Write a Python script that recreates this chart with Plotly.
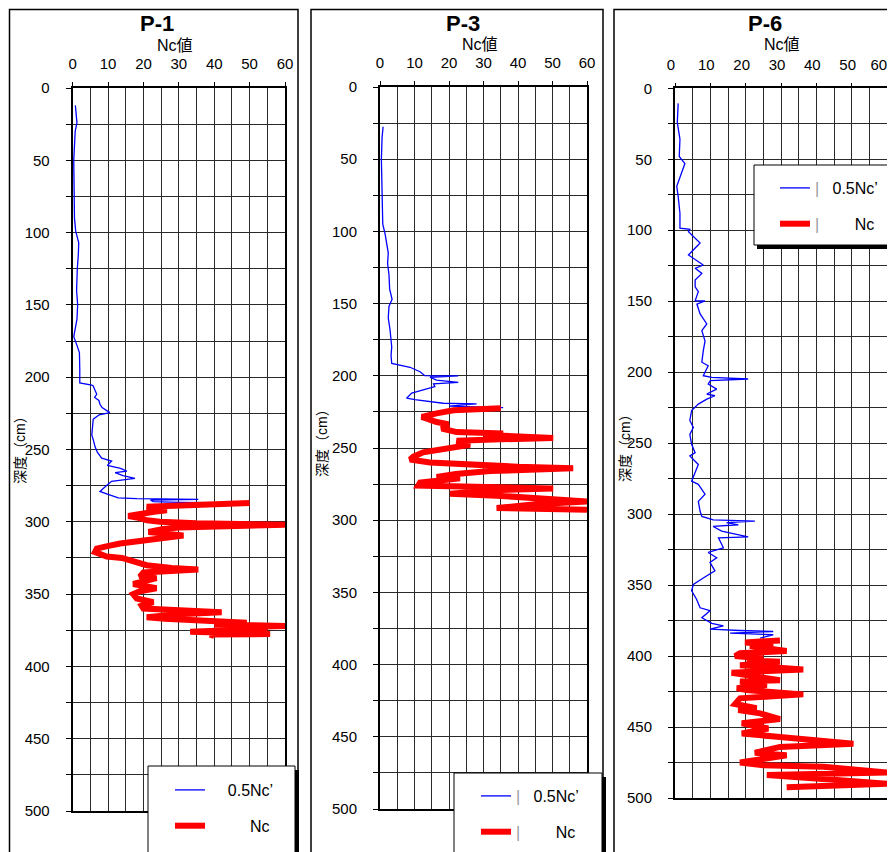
import plotly.graph_objects as go

# The page body adds an 8px margin, so the figure is drawn 8px smaller and
# reference pixel p maps to figure pixel p - 8.
OFF = 8
W, H = 895 - OFF, 852 - OFF

# ---------------- data ----------------
p1_blue_depth = [12, 18, 24, 30, 40, 50, 60, 75, 90, 99, 107, 115, 125, 140, 150, 160, 172, 178, 183, 195, 204,
                 205.5, 206, 209, 211.8, 214, 216, 218.7, 221, 224.5, 226, 229, 235, 240, 244, 248, 252, 256, 258,
                 261, 263, 265, 266, 268, 270, 272, 275, 279, 281, 283.5, 284, 284.5, 285, 286, 286.5, 287]
p1_blue_val = [0.75, 1.0, 1.2, 0.7, 0.4, 0.3, 0.35, 0.4, 0.5, 0.85, 1.7, 1.6, 1.3, 1.1, 1.4, 1.2, 0.3, 1.2, 1.9, 2.0,
               2.0, 5.4, 5.8, 6.3, 6.8, 6.2, 7.4, 7.7, 8.3, 10.5, 7.5, 5.8, 5.6, 5.4, 5.9, 6.3, 7.0, 8.2, 11.0,
               9.8, 13.5, 15.3, 12.0, 14.2, 17.6, 11.0, 9.5, 7.7, 10.0, 12.9, 18.1, 35.5, 22.0, 22.8, 30.0, 50.0]

p1_red_depth = [287, 288, 289.6, 291, 292, 293, 294, 296, 297, 299, 300, 301, 302, 302.5, 303, 304, 305, 307, 309.5,
                311, 313, 315, 317, 318.6, 321, 322.5, 324, 325, 328, 330, 332, 333, 335, 338, 339, 341, 343, 346,
                348, 350, 353, 355.6, 358, 360, 361, 362.5, 364, 366, 367, 368, 369.8, 371, 372, 373, 374, 376,
                377.6, 378, 379]
p1_red_val = [50, 35, 20.9, 24, 26.6, 23, 20, 15.7, 18.1, 21, 24.7, 35, 60, 45, 41.6, 30, 25.6, 21.4, 31.3, 26, 20,
              13.4, 9.5, 6.8, 6.3, 7.5, 9.6, 13.9, 18.1, 20.9, 28, 35.5, 20, 19, 23.7, 20, 17.1, 23.7, 19, 17.1,
              18.1, 22.8, 19.5, 20, 29.4, 42.1, 30, 20.9, 26, 33.2, 49.2, 40, 60, 45, 55, 33.2, 55.8, 38.8, 40]

p3_blue_depth = [27.5, 35, 50, 65, 80, 95, 102, 108, 115, 122, 130, 140, 147, 152, 160, 168, 175, 180, 186, 191.4,
                 194.1, 197.2, 199.9, 200, 201, 203, 204.5, 205.5, 207.5, 210, 212, 215.5, 216.5, 219, 219.4, 221, 222]
p3_blue_val = [0.9, 0.6, 0.4, 0.5, 0.7, 0.8, 1.5, 2.0, 2.4, 2.2, 2.6, 2.8, 3.5, 2.6, 2.4, 2.9, 3.2, 3.4, 3.2, 3.4,
               8.7, 11.6, 13.0, 22.7, 14.5, 16.4, 22.7, 15.5, 15.9, 12.1, 9.2, 7.7, 10.1, 18.3, 28.0, 20.0, 35.7]

p3_red_depth = [222.5, 223, 223.9, 226, 228.4, 230, 232, 233.5, 236.5, 239, 240, 241, 243, 244, 245, 247.7, 251, 253,
                256, 258, 260, 261.6, 263, 264, 265, 266, 268, 270, 271, 274, 276, 277, 278, 279, 281.7, 283, 285,
                287, 289, 291.6, 292.7]
p3_red_val = [35, 26.6, 21.3, 16.4, 12.1, 14, 16.4, 19.8, 17.9, 22.2, 35.7, 30, 50.2, 35, 22.2, 26.1, 16.4, 12.5,
              9.7, 8.7, 14.5, 25.1, 40, 56, 45, 31.9, 22, 16.4, 23.2, 11.6, 11.1, 30, 50.2, 35, 20.3, 33.8, 45, 60,
              45, 33.8, 60]

p6_blue_depth = [10.6, 24, 36, 48, 53, 69, 76.3, 88, 98.6, 99.3, 101, 109, 117.4, 119.8, 124.5, 126.8, 130.4, 135,
                 139.8, 143.3, 149.7, 149.8, 152, 159, 166, 170.8, 178, 185, 193, 195.5, 202.5, 203.6, 204.8, 206,
                 208.4, 211.9, 215.4, 216.6, 219, 222.5, 227, 234, 239, 243.8, 250.8, 256.7, 259, 265, 271, 276.8,
                 279, 286, 291, 298, 301.6, 304, 305, 306, 307.5, 308.7, 312, 316, 316.7, 323.7, 327, 330.7, 334,
                 340, 345, 349.5, 354, 360, 366, 368, 373, 377, 378.8, 381, 382, 382.7, 383.8, 385, 387.4]
p6_blue_val = [0.9, 0.65, 1.4, 1.2, 2.8, 0.5, 0.9, 1.4, 1.4, 4.2, 3.8, 7.1, 3.8, 5.2, 8.0, 5.7, 7.6, 5.7, 5.7, 6.6,
               5.7, 8.5, 6.2, 7.1, 9.0, 7.6, 8.5, 8.0, 7.6, 9.4, 8.0, 10.4, 20.7, 10.0, 9.4, 11.8, 9.0, 11.3, 9.0,
               6.6, 4.7, 4.2, 5.2, 4.2, 4.7, 5.7, 4.2, 6.6, 5.7, 4.7, 6.6, 8.5, 6.6, 7.1, 7.6, 10.8, 22.6, 14.6,
               17.9, 10.8, 13.2, 20.7, 12.3, 13.7, 9.4, 11.8, 9.9, 11.3, 8.0, 5.2, 4.7, 6.1, 7.1, 9.9, 7.6, 10.4,
               13.7, 9.9, 18.4, 27.8, 15.6, 27.8, 24.1]

p6_red_depth = [389, 390.4, 392, 393, 396.5, 398, 400, 401.8, 402.9, 404, 406.4, 409.4, 411.8, 413.4, 417, 418,
                420.4, 422.7, 424, 427, 429.8, 433.8, 436.8, 438, 440.4, 444.4, 447.4, 451, 454.6, 457, 458.8,
                461.7, 464, 468.2, 469.9, 475, 477, 478, 482, 483.8, 487.3, 490, 492.5]
p6_red_val = [29.7, 19.8, 27.8, 21.2, 31.6, 18.4, 17, 25, 20.3, 29.7, 18.4, 36.3, 16, 20.3, 29.7, 18.4, 26, 17.5,
              20.3, 36.3, 18.4, 17, 23.1, 17.9, 24.1, 29.7, 18.9, 26.4, 18.9, 29.7, 39.1, 50.5, 29.7, 22.6, 31.6,
              18.4, 25, 42, 60, 26, 45.8, 60, 31.6]

titles = ["P-1", "P-3", "P-6"]
x_label = "Nc値"
y_label = "深度（cm）"
blue_name = "0.5Nc’"
red_name = "Nc"
x_ticks = [0, 10, 20, 30, 40, 50, 60]
x_tick_text = ["0", "10", "20", "30", "40", "50", "60"]

FONT = "Liberation Sans, Arial, Noto Sans CJK JP, sans-serif"


def fx(p):
    return (p - OFF) / W


def fy(p):
    return 1 - (p - OFF) / H


fig = go.Figure()

series = [
    (p1_blue_depth, p1_blue_val, p1_red_depth, p1_red_val),
    (p3_blue_depth, p3_blue_val, p3_red_depth, p3_red_val),
    (p6_blue_depth, p6_blue_val, p6_red_depth, p6_red_val),
]
legend_ids = ["legend", "legend2", "legend3"]
for i, (bd, bv, rd, rv) in enumerate(series):
    xa = "x" if i == 0 else f"x{i+1}"
    ya = "y" if i == 0 else f"y{i+1}"
    bar = '<span style="color:#999999">|</span>' if i > 0 else '\u00a0'
    fig.add_trace(go.Scatter(x=bv, y=bd, mode="lines", name=bar + "\u00a0\u00a0\u00a0" + blue_name,
                             line=dict(color="#0000ff", width=1.3), xaxis=xa, yaxis=ya,
                             legend=legend_ids[i], legendgroup=f"b{i}"))
    fig.add_trace(go.Scatter(x=rv, y=rd, mode="lines",
                             name=bar + "\u00a0\u00a0\u00a0\u00a0\u00a0\u00a0\u00a0\u00a0" + red_name,
                             line=dict(color="#ff0000", width=6), xaxis=xa, yaxis=ya,
                             legend=legend_ids[i], legendgroup=f"r{i}"))

# panel geometry in reference pixels: (x of 0, x of 60, y of 0, y of 500)
geom = [(72.7, 285, 88, 811), (380, 587, 87, 809), (675, 887, 88.3, 798)]
label_shift = [0, 0, -4]
GRID = "#2a2a2a"
layout = dict(width=W, height=H, margin=dict(l=0, r=0, t=0, b=0, autoexpand=False),
              paper_bgcolor="white", plot_bgcolor="white",
              font=dict(family=FONT, size=15, color="black"), showlegend=True)
for i, (xl, xr, yt, yb) in enumerate(geom):
    sx = "" if i == 0 else str(i + 1)
    ttext = list(x_tick_text)
    if i == 2:
        # last label sits at the page edge: pad it so it stays inside the window
        ttext[-1] = ttext[-1] + "\u00a0\u00a0"
    layout[f"xaxis{sx}"] = dict(domain=[fx(xl), fx(xr)], range=[0, 60], side="top",
                                anchor=f"y{sx}", tickvals=x_ticks, ticktext=ttext, ticks="outside", ticklen=4,
                                tickcolor="black", showline=True, linecolor="black", linewidth=1.5,
                                mirror=True, showgrid=True, gridcolor=GRID, gridwidth=1, zeroline=False,
                                minor=dict(dtick=5, tick0=0, showgrid=True, gridcolor=GRID, gridwidth=1),
                                tickfont=dict(size=15), ticklabelstandoff=7, ticklabeloverflow="allow",
                                ticklabelshift=label_shift[i])
    layout[f"yaxis{sx}"] = dict(domain=[fy(yb), fy(yt)], range=[500, 0], anchor=f"x{sx}",
                                tick0=0, dtick=50, ticks="outside", ticklen=5, tickcolor="black",
                                showline=True, linecolor="black", linewidth=2, mirror=True,
                                showgrid=True, gridcolor=GRID, gridwidth=1, zeroline=False,
                                minor=dict(dtick=25, tick0=0, ticks="outside", ticklen=5, tickcolor="black",
                                           showgrid=True, gridcolor=GRID, gridwidth=1),
                                tickfont=dict(size=15), ticklabelstandoff=13, ticklabeloverflow="allow")

# legend boxes (reference pixels): left, top, right, bottom, shadow rect
leg_boxes = [
    (148, 766, 295, 870, (295, 770, 299, 870)),
    (454, 773, 602, 870, (602, 777, 606, 870)),
    (754, 165, 905, 245, (757, 245, 905, 249)),
]
shapes = []
for (l, r) in [(9.5, 298), (311, 603), (614, 905)]:
    shapes.append(dict(type="rect", xref="paper", yref="paper", x0=fx(l), x1=fx(r), y0=fy(870), y1=fy(9.5),
                       line=dict(color="black", width=1.5), fillcolor="rgba(0,0,0,0)", layer="above"))
for (l, t, r, b, sh) in leg_boxes:
    shapes.append(dict(type="rect", xref="paper", yref="paper", x0=fx(sh[0]), x1=fx(sh[2]), y0=fy(sh[3]),
                       y1=fy(sh[1]), line=dict(width=0), fillcolor="black", layer="above"))
    shapes.append(dict(type="rect", xref="paper", yref="paper", x0=fx(l), x1=fx(r), y0=fy(b), y1=fy(t),
                       line=dict(color="black", width=1), fillcolor="white", layer="above"))
layout["shapes"] = shapes

leg_pos = [(170, 773), (476, 779), (775, 171)]
for i, (lx, ly) in enumerate(leg_pos):
    layout[legend_ids[i]] = dict(x=fx(lx), y=fy(ly), xanchor="left", yanchor="top",
                                 bgcolor="rgba(0,0,0,0)", borderwidth=0, traceorder="grouped",
                                 tracegroupgap=12, font=dict(size=16, family=FONT))

ann = []
title_pos = [(157, 24), (463, 23), (765, 24)]
sub_pos = [(175, 46), (480, 44), (782, 44)]
ylab_pos = [(20, 447), (322, 440), (625, 445)]
for i in range(3):
    ann.append(dict(text=f"<b>{titles[i]}</b>", x=fx(title_pos[i][0]), y=fy(title_pos[i][1]), xref="paper",
                    yref="paper", showarrow=False, font=dict(size=22), xanchor="center", yanchor="middle"))
    ann.append(dict(text=x_label, x=fx(sub_pos[i][0]), y=fy(sub_pos[i][1]), xref="paper", yref="paper",
                    showarrow=False, font=dict(size=16), xanchor="center", yanchor="middle"))
    ann.append(dict(text=y_label, x=fx(ylab_pos[i][0]), y=fy(ylab_pos[i][1]), xref="paper", yref="paper",
                    showarrow=False, font=dict(size=14), textangle=-90, xanchor="center", yanchor="middle"))
layout["annotations"] = ann

fig.update_layout(**layout)
fig.write_html("out.html")
